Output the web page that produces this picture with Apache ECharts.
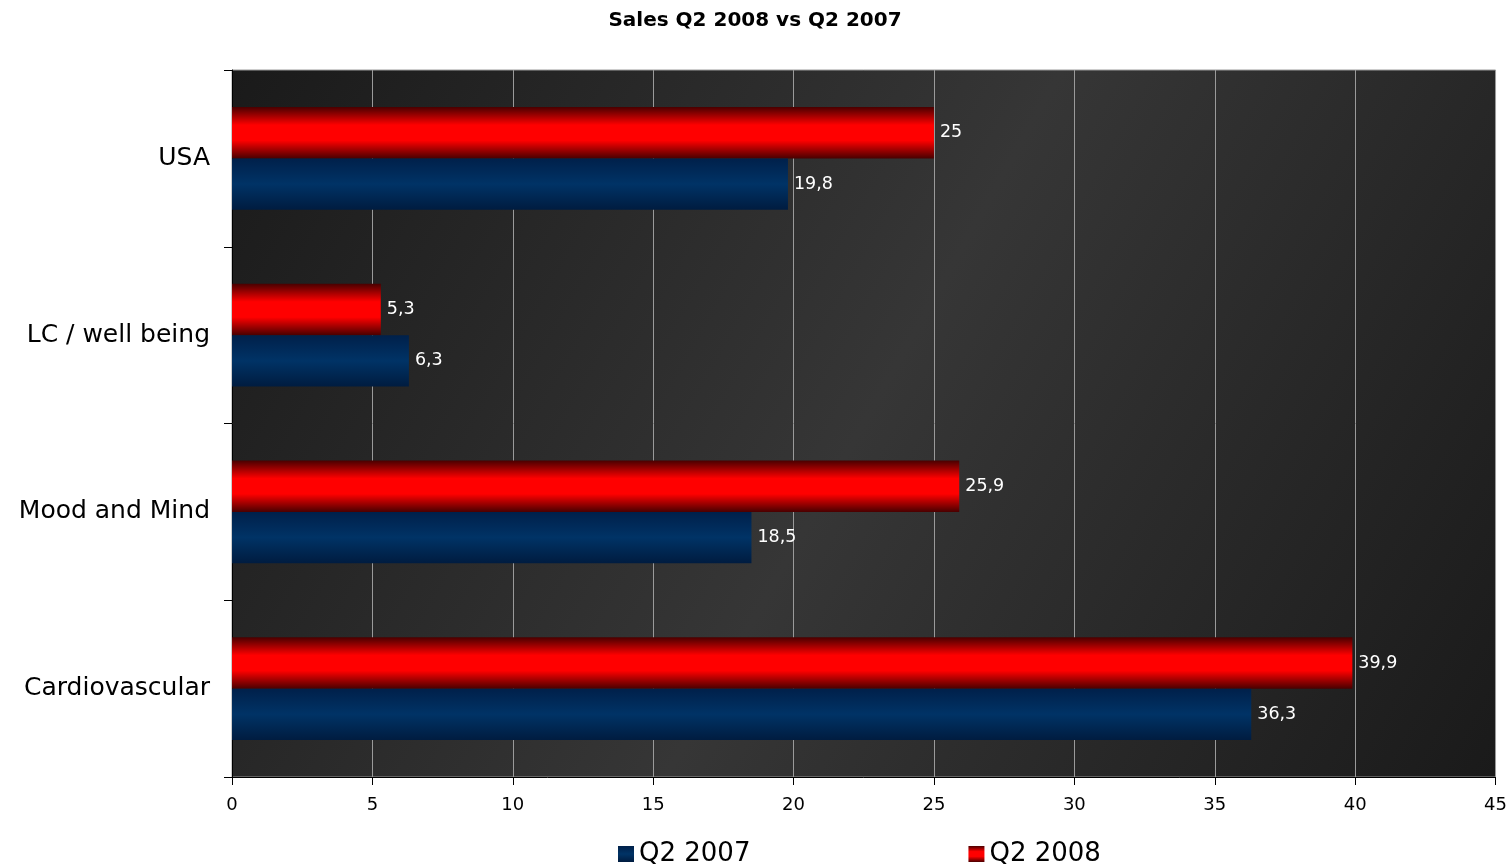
<!DOCTYPE html>
<html><head><meta charset="utf-8">
<script src="https://cdn.jsdelivr.net/npm/echarts@6/dist/echarts.min.js"></script>
<style>html,body{margin:0;padding:0;background:#fff}#c{width:1510px;height:864px}</style>
</head><body><div id="c"></div>
<script>
const categories = ['USA', 'LC / well being', 'Mood and Mind', 'Cardiovascular'];
const q2007 = [19.8, 6.3, 18.5, 36.3];
const q2008 = [25, 5.3, 25.9, 39.9];
const xTicks = [0, 5, 10, 15, 20, 25, 30, 35, 40, 45];

const FF = 'DejaVu Sans, Verdana, sans-serif';
const chart = echarts.init(document.getElementById('c'), null, {renderer: 'canvas'});
const lg = (c0, c1) => ({type: 'linear', x: 0, y: 0, x2: 0, y2: 1, colorStops: [
  {offset: 0, color: c0}, {offset: 0.35, color: c1}, {offset: 0.65, color: c1}, {offset: 1, color: c0}]});
const fmt = p => String(p.value).replace('.', ',');
chart.setOption({
  animation: false,
  title: {text: 'Sales Q2 2008 vs Q2 2007', left: 'center', top: 6,
    textStyle: {fontFamily: FF, fontWeight: 'bold', fontSize: 20, color: '#000'}},
  legend: {top: 836, left: 613, itemWidth: 16, itemHeight: 16, itemGap: 218, icon: 'rect',
    data: ['Q2 2007', 'Q2 2008'],
    textStyle: {fontFamily: FF, fontSize: 26, color: '#000'}},
  grid: {left: 232, right: 14, top: 70, bottom: 87, show: true, borderColor: '#9a9a9a', borderWidth: 1,
    backgroundColor: {type: 'linear', x: 0, y: 0, x2: 1, y2: 1, colorStops: [
      {offset: 0, color: '#1a1a1a'}, {offset: 0.5, color: '#363636'}, {offset: 1, color: '#1a1a1a'}]}},
  xAxis: {type: 'value', min: 0, max: 45, interval: 5,
    axisLine: {show: true, lineStyle: {color: '#000'}},
    axisTick: {show: true, length: 8, lineStyle: {color: '#000'}},
    splitLine: {show: true, lineStyle: {color: '#9a9a9a', width: 1}},
    axisLabel: {fontFamily: FF, fontSize: 18, color: '#000', margin: 19,
      formatter: v => xTicks.includes(v) ? String(v) : ''}},
  yAxis: {type: 'category', data: categories, inverse: true,
    axisLine: {show: true, lineStyle: {color: '#000'}},
    axisTick: {show: true, length: 8, lineStyle: {color: '#000'}},
    axisLabel: {fontFamily: FF, fontSize: 25, color: '#000', margin: 22}},
  series: [
    {name: 'Q2 2008', type: 'bar', data: q2008, barGap: '0%', barCategoryGap: '42%',
      itemStyle: {color: lg('#4a0000', '#ff0000')},
      label: {show: true, position: 'right', distance: 6, color: '#fff', fontSize: 17.5, fontFamily: FF, formatter: fmt}},
    {name: 'Q2 2007', type: 'bar', data: q2007, barGap: '0%', barCategoryGap: '42%',
      itemStyle: {color: {type: 'linear', x: 0, y: 0, x2: 0, y2: 1, colorStops: [
        {offset: 0, color: '#00204a'}, {offset: 0.5, color: '#003366'}, {offset: 1, color: '#001c40'}]}},
      label: {show: true, position: 'right', distance: 6, color: '#fff', fontSize: 17.5, fontFamily: FF, formatter: fmt}}
  ]
});
</script></body></html>
